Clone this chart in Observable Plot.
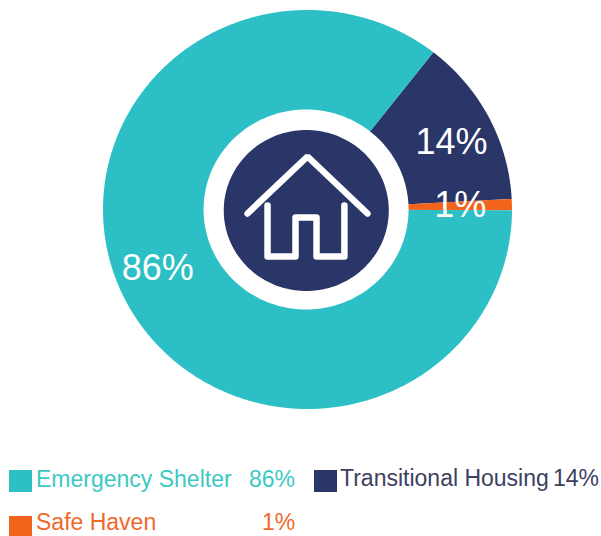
<!DOCTYPE html>
<html><head><meta charset="utf-8">
<script src="https://cdn.jsdelivr.net/npm/d3@7"></script>
<script src="https://cdn.jsdelivr.net/npm/@observablehq/plot@0.6"></script>
<style>
html,body{margin:0;padding:0;background:#fff;}
body{width:601px;height:536px;position:relative;overflow:hidden;font-family:"Liberation Sans",Arial,sans-serif;}
#chart svg{display:block;}
.lg{position:absolute;font-size:23px;line-height:21px;white-space:nowrap;}
.sw{position:absolute;width:23px;}
</style></head><body>
<div id="chart"></div>
<div id="legend"></div>
<script>
const categories = ["Emergency Shelter","Transitional Housing","Safe Haven"];
const values = [85.5,13.6,0.9];
const labels = ["86%","14%","1%"];
const colors = ["#2cc0c6","#2a3568","#f2641c"];
const legendText = ["#3cc9c4","#3c4160","#ee6a2a"];
const labelX = [-146,140.5,149];
const labelY = [-59,67,4];
// house icon outline, in chart units
const roofX = [-58.5,0,58.5];
const roofY = [-4,53,-4];
const wallsX = [-39,-39,-11.7,-11.7,8.8,8.8,36,36];
const wallsY = [4,-47,-47,-8,-8,-47,-47,4];

const R = 199.5, W = 601, H = 430, cx = 307, cy = 209, sx = 1.025;
const startDeg = 38;
const pie = d3.pie().sort(null).startAngle(startDeg*Math.PI/180).endAngle((startDeg+360)*Math.PI/180);
const order = [1,2,0];
const arcs = pie(order.map(i=>values[i]));
const slices = [];
arcs.forEach((a,k)=>{
  const name = categories[order[k]];
  slices.push({name,x:0,y:0});
  const n = Math.max(2,Math.ceil((a.endAngle-a.startAngle)/0.01));
  d3.range(n+1).forEach(j=>{
    const t = a.startAngle+(a.endAngle-a.startAngle)*j/n;
    slices.push({name,x:R*Math.sin(t),y:R*Math.cos(t)});
  });
});
const disc = (r,dx,dy)=>d3.range(0,361,2).map(d=>({x:dx+r*Math.sin(d*Math.PI/180),y:dy+r*Math.cos(d*Math.PI/180)}));
const plot = Plot.plot({
  width:W,height:H,margin:0,
  x:{domain:[-cx/sx,(W-cx)/sx],range:[0,W],axis:null},
  y:{domain:[cy-H,cy],range:[H,0],axis:null},
  color:{domain:categories,range:colors},
  marks:[
    Plot.line(slices,{x:"x",y:"y",z:"name",fill:"name",stroke:null}),
    Plot.line(disc(100,-1.4,0),{x:"x",y:"y",fill:"#fff",stroke:null}),
    Plot.line(disc(80.5,-1.2,-1),{x:"x",y:"y",fill:colors[1],stroke:null}),
    Plot.line(roofX.map((x,i)=>({x,y:roofY[i]})),{x:"x",y:"y",stroke:"#fff",strokeWidth:6.5,strokeLinecap:"round",strokeLinejoin:"miter"}),
    Plot.line(wallsX.map((x,i)=>({x,y:wallsY[i]})),{x:"x",y:"y",stroke:"#fff",strokeWidth:6.5,strokeLinecap:"round",strokeLinejoin:"round"}),
    Plot.text(labels.map((l,i)=>({l,x:labelX[i],y:labelY[i]})),{x:"x",y:"y",text:"l",fill:"#fff",fontSize:36,fontFamily:"Liberation Sans"})
  ]
});
document.getElementById("chart").append(plot);
const legend = document.getElementById("legend");
const lay = [
 {sx:9,sy:470,sh:22,tx:36,ty:469,px:249},
 {sx:314,sy:470,sh:22,tx:340,ty:468,px:553},
 {sx:9,sy:516,sh:20,tx:36,ty:512,px:262}
];
categories.forEach((c,i)=>{
  const p=lay[i];
  const sw=document.createElement("div");sw.className="sw";
  sw.style.cssText=`left:${p.sx}px;top:${p.sy}px;height:${p.sh}px;background:${colors[i]}`;
  legend.append(sw);
  const t=document.createElement("div");t.className="lg";t.textContent=c;
  t.style.cssText=`left:${p.tx}px;top:${p.ty}px;color:${legendText[i]}`;
  legend.append(t);
  const v=document.createElement("div");v.className="lg";v.textContent=labels[i];
  v.style.cssText=`left:${p.px}px;top:${p.ty}px;color:${legendText[i]}`;
  legend.append(v);
});
</script></body></html>
